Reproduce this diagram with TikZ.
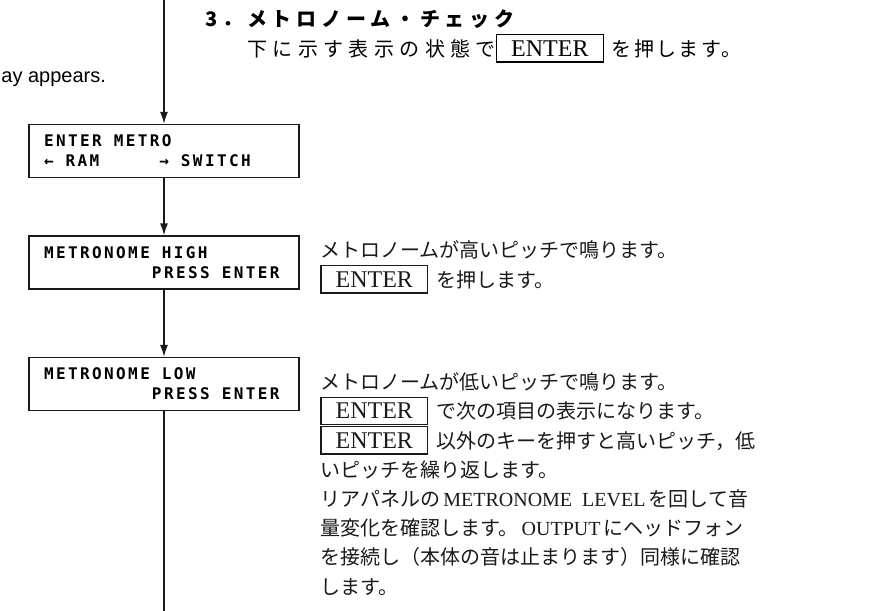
\documentclass[tikz,border=0pt]{standalone}
\usepackage{fontspec}
\setmainfont{Liberation Serif}
\setsansfont{Liberation Sans}
\newfontfamily\jpfont{Noto Sans CJK JP}
\newfontfamily\jpspread[LetterSpace=27]{Noto Sans CJK JP}
\newfontfamily\jpintro[LetterSpace=12]{Noto Sans CJK JP}
\newfontfamily\jptitle[LetterSpace=24]{Noto Sans CJK JP}
\newfontfamily\lcdfont[LetterSpace=15]{DejaVu Sans Mono}
\usetikzlibrary{arrows.meta,positioning}
\definecolor{ink}{HTML}{1A1A1A}
\newlength\lcdpitch
\setlength\lcdpitch{6pt}
\newcommand\lcdpad[1]{\hspace*{\dimexpr #1\lcdpitch\relax}}
\newcommand\keycap[1]{{\setlength\fboxsep{0pt}\setlength\fboxrule{0.6pt}%
  \fbox{\rule[-2.7pt]{0pt}{13pt}\hspace{7pt}{\rmfamily\fontsize{12}{12}\selectfont #1}\hspace{7pt}}}}
\tikzset{
  flowarr/.style={-{Latex[length=6pt,width=4pt]},line width=0.75pt,color=ink},
  flowline/.style={line width=0.75pt,color=ink},
  lcdbox/.style={draw=ink,line width=0.6pt,minimum width=135pt,minimum height=26.5pt,text width=120pt,
    align=left,inner xsep=7.5pt,inner ysep=0pt,
    font=\lcdfont\bfseries\fontsize{8}{10}\selectfont},
  notetext/.style={anchor=base west,inner sep=0pt,align=left,text=ink,
    font=\jpfont\fontsize{10}{14.6}\selectfont}
}
\begin{document}
\begin{tikzpicture}[x=0.5pt,y=-0.5pt,>=Latex]
  \useasboundingbox (0,0) rectangle (880,611);
  \node[anchor=base west,inner sep=0pt,font=\sffamily\fontsize{10}{12}\selectfont] (appears) at (1,82) {ay appears.};
  \node[anchor=base west,inner sep=0pt,font=\jptitle\bfseries\fontsize{10}{12}\selectfont] (title) at (205,26) {3．メトロノーム・チェック};
  \node[anchor=base west,inner sep=0pt,font=\fontsize{10}{12}\selectfont] (intro) at (247,56)
    {{\jpspread 下に示す表示の状態で}\keycap{ENTER}\hspace{4pt}{\jpintro を押します。}};
  \coordinate (entry) at (164,0);
  \coordinate (exit) at (164,611);
  \node[lcdbox] (metro) at (164,151) {ENTER\lcdpad{1}METRO\\←\lcdpad{1}RAM\lcdpad{5}→\lcdpad{1}SWITCH};
  \node[lcdbox] (high) at (164,262.5) {METRONOME\lcdpad{1}HIGH\\\lcdpad{9}PRESS\lcdpad{1}ENTER};
  \node[lcdbox] (low) at (164,384) {METRONOME\lcdpad{1}LOW\\\lcdpad{9}PRESS\lcdpad{1}ENTER};
  \draw[flowarr] (entry) -- (metro);
  \draw[flowarr] (metro) -- (high);
  \draw[flowarr] (high) -- (low);
  \draw[flowline] (low) -- (exit);
  \node[notetext] (highnote) at (320,287)
    {メトロノームが高いピッチで鳴ります。\\\keycap{ENTER}\hspace{4pt}を押します。};
  \node[notetext] (lownote) at (320,594)
    {メトロノームが低いピッチで鳴ります。\\
     \keycap{ENTER}\hspace{4pt}で次の項目の表示になります。\\
     \keycap{ENTER}\hspace{4pt}以外のキーを押すと高いピッチ，低\\
     いピッチを繰り返します。\\
     リアパネルの{\rmfamily\,METRONOME\ \ LEVEL\,}を回して音\\
     量変化を確認します。{\rmfamily\,OUTPUT\,}にヘッドフォン\\
     を接続し（本体の音は止まります）同様に確認\\
     します。};
\end{tikzpicture}
\end{document}
